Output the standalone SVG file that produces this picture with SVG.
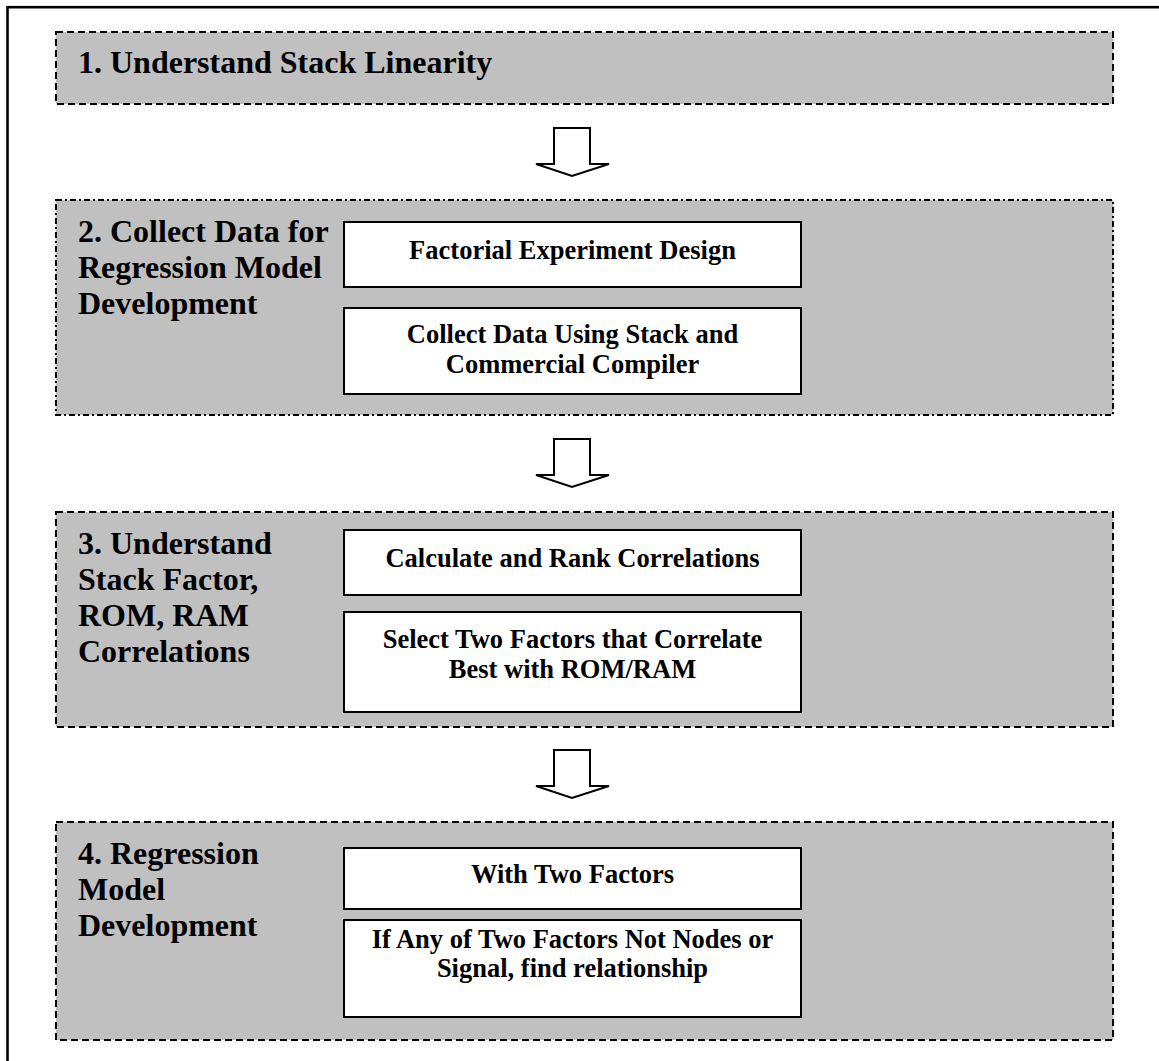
<svg xmlns="http://www.w3.org/2000/svg" width="1159" height="1061" viewBox="0 0 1159 1061">
  <style>
    .frame { fill: none; stroke: #000; stroke-width: 2.6; }
    .stage { fill: #c0c0c0; stroke: #000; stroke-width: 2; }
    .dashed { stroke-dasharray: 7 4; }
    .dashdot { stroke-dasharray: 6 3 2 3; }
    .step { fill: #fff; stroke: #000; stroke-width: 2; }
    .title { font-family: "Liberation Serif", "Times New Roman", serif; font-weight: bold; font-size: 32px; fill: #000; }
    .label { font-family: "Liberation Serif", "Times New Roman", serif; font-weight: bold; font-size: 26.5px; fill: #000; text-anchor: middle; }
    .flow { fill: #fff; stroke: #000; stroke-width: 2; stroke-linejoin: miter; }
  </style>

  <!-- page frame (right and bottom edges run off the page) -->
  <rect class="frame" x="7.5" y="7.2" width="1170" height="1080"/>

  <g id="stage1">
    <rect class="stage dashed" x="56" y="32" width="1057" height="72"/>
    <text class="title" x="78" y="73">1. Understand Stack Linearity</text>
  </g>

  <g id="stage2">
    <rect class="stage dashdot" x="56" y="200" width="1057" height="215"/>
    <text class="title" x="78" y="242">2. Collect Data for</text>
    <text class="title" x="78" y="278">Regression Model</text>
    <text class="title" x="78" y="314">Development</text>
    <g id="step2a">
      <rect class="step" x="344" y="222" width="457" height="65"/>
      <text class="label" x="572.5" y="259">Factorial Experiment Design</text>
    </g>
    <g id="step2b">
      <rect class="step" x="344" y="308" width="457" height="86"/>
      <text class="label" x="572.5" y="343">Collect Data Using Stack and</text>
      <text class="label" x="572.5" y="373">Commercial Compiler</text>
    </g>
  </g>

  <g id="stage3">
    <rect class="stage dashed" x="56" y="512" width="1057" height="215"/>
    <text class="title" x="78" y="554">3. Understand</text>
    <text class="title" x="78" y="590">Stack Factor,</text>
    <text class="title" x="78" y="626">ROM, RAM</text>
    <text class="title" x="78" y="662">Correlations</text>
    <g id="step3a">
      <rect class="step" x="344" y="530" width="457" height="65"/>
      <text class="label" x="572.5" y="567">Calculate and Rank Correlations</text>
    </g>
    <g id="step3b">
      <rect class="step" x="344" y="612" width="457" height="100"/>
      <text class="label" x="572.5" y="648">Select Two Factors that Correlate</text>
      <text class="label" x="572.5" y="678">Best with ROM/RAM</text>
    </g>
  </g>

  <g id="stage4">
    <rect class="stage dashed" x="56" y="822" width="1057" height="218"/>
    <text class="title" x="78" y="864">4. Regression</text>
    <text class="title" x="78" y="900">Model</text>
    <text class="title" x="78" y="936">Development</text>
    <g id="step4a">
      <rect class="step" x="344" y="848" width="457" height="61"/>
      <text class="label" x="572.5" y="883">With Two Factors</text>
    </g>
    <g id="step4b">
      <rect class="step" x="344" y="920" width="457" height="97"/>
      <text class="label" x="572.5" y="948">If Any of Two Factors Not Nodes or</text>
      <text class="label" x="572.5" y="977">Signal, find relationship</text>
    </g>
  </g>

  <!-- block arrows between stages -->
  <g id="connectors">
    <polygon class="flow" points="554,128 590,128 590,164 609,164 572,176 536,164 554,164"/>
    <polygon class="flow" points="554,439 590,439 590,475 609,475 572,487 536,475 554,475"/>
    <polygon class="flow" points="554,750 590,750 590,786 609,786 572,798 536,786 554,786"/>
  </g>
</svg>
